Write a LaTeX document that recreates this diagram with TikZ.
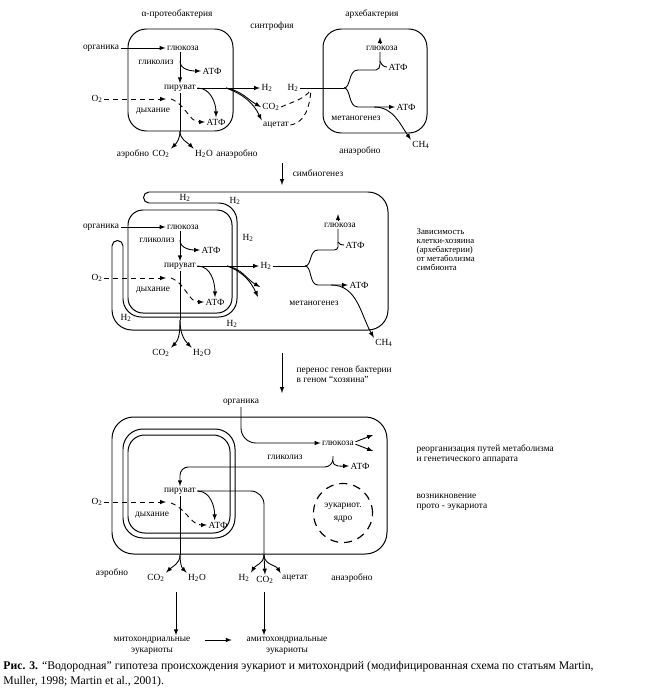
\documentclass[tikz,border=0pt]{standalone}
\usepackage{fontspec}
\setmainfont{Liberation Serif}
\newcommand\hyd{H\textsubscript{2}}
\newcommand\cdo{CO\textsubscript{2}}
\newcommand\oxy{O\textsubscript{2}}
\newcommand\meth{CH\textsubscript{4}}
\newcommand\wat{H\textsubscript{2}O}
\tikzset{
  txt/.style={font=\fontsize{8}{8.5}\selectfont, inner sep=1pt},
  arr/.style={arrows={-latex}},
  dsh/.style={dash pattern=on 1.5mm off 1.2mm},
  cell/.style={line width=0.85pt},
}

\begin{document}
\begin{tikzpicture}[x=0.3mm,y=-0.3mm,line width=0.75pt]
      \useasboundingbox (0,0) rectangle (644,699);
      % synthrophy: two cells
      \node[txt] (alpha) at (177,14) {α-протеобактерия};
      \node[txt] (syntr) at (272,26) {синтрофия};
      \node[txt] (archae) at (372,14) {архебактерия};
      \draw[cell,rounded corners=5.5mm] (128,29) rectangle (233,131);
      \draw[cell,rounded corners=5.5mm] (323,29) rectangle (427,133);
      \node[txt] (org1) at (101,48) {органика};
      \node[txt] (gluA1) at (183,48) {глюкоза};
      \node[txt] (gly1) at (156,62) {гликолиз};
      \node[txt] (atpA1) at (212,71) {АТФ};
      \node[txt] (pyr1) at (180,88) {пируват};
      \node[txt] (o2a) at (97,99) {\oxy};
      \node[txt] (resp1) at (153,111) {дыхание};
      \node[txt] (atpB1) at (216,122) {АТФ};
      \node[txt] (aer1) at (133,154) {аэробно};
      \node[txt] (co2a) at (161,154) {\cdo};
      \node[txt] (h2oa) at (204,154) {\wat};
      \node[txt] (anaer1) at (237,154) {анаэробно};
      \node[txt] (h2a) at (267,88) {\hyd};
      \node[txt] (co2b) at (271,107) {\cdo};
      \node[txt] (acet1) at (276,125) {ацетат};
      \node[txt] (h2b) at (293,88) {\hyd};
      \node[txt] (gluB1) at (382,48) {глюкоза};
      \node[txt] (atpC1) at (398,67) {АТФ};
      \node[txt] (atpD1) at (406,107) {АТФ};
      \node[txt] (meth1) at (356,118) {метаногенез};
      \node[txt] (ch4a) at (421,145) {\meth};
      \node[txt] (anaer2) at (360,151) {анаэробно};
      \coordinate (g1) at (180,61);
      \coordinate (f1) at (226,88);
      \coordinate (o2t1) at (166,99);
      \coordinate (r1) at (171,99);
      \coordinate (b1) at (180,131);
      \coordinate (j0) at (311,90);
      \coordinate (j1) at (344,88);
      \coordinate (u1) at (380,64);
      \coordinate (u1b) at (380,61);
      \coordinate (m1) at (374,107);
      \draw[arr] (org1) -- (gluA1);%org-glu
      \draw[arr] (gluA1.south -| pyr1) -- (pyr1.north);%glu-pyr
      \draw[arr] (g1) to[out=-90,in=180] (atpA1.west);%glycolysis-ATP
      \draw[arr] (pyr1.east) -- (h2a.west);%pyr-H2
      \draw[arr] (pyr1.east) to[out=0,in=90] (atpB1.north);%pyr-ATP
      \draw[arr] (f1) to[out=-10,in=150] (co2b.west);%pyr-CO2
      \draw[arr] (f1) to[out=-20,in=115] (acet1.north west);%pyr-acetate
      \draw[arr,dsh] (o2a) -- (o2t1);%O2 in
      \draw[arr,dsh] (r1) to[out=-20,in=180] (atpB1.west);%respiration-ATP
      \draw (pyr1.south) -- (b1);
      \draw[arr] (b1) to[out=-90,in=45] (co2a.north east);%aerobic
      \draw[arr] (b1) to[out=-90,in=135] (h2oa.north west);%anaerobic
      \draw[dsh] (co2b.east) to[out=25,in=-130] (j0);%CO2-archaea
      \draw[dsh] (acet1.east) to[out=10,in=-95] (j0);%acetate-archaea
      \draw (h2b.east) -- (j1);
      \draw (j1) .. controls (351,88) and (348,70) .. (358,70) -- (376,70) to[out=0,in=-90] (u1) -- (gluB1.south -| u1);
      \draw[arr] (gluB1.north -| u1) -- ++(0,-7);%to glucose
      \draw (atpC1.west) to[out=180,in=-70] (u1b);%ATP hook
      \draw[arr] (j1) .. controls (351,88) and (348,107) .. (358,107) -- (atpD1.west);%H2-ATP
      \draw[arr] (m1) to[out=0,in=125] (ch4a.north west);%methane

      % symbiogenesis
      \node[txt] (symb) at (318,173) {симбиогенез};
      \coordinate (s1) at (282,163);
      \coordinate (s2) at (282,185);
      \draw[arr] (s1) -- (s2);

      % host cell engulfing the symbiont
      \draw[cell,rounded corners=6mm] (149,192) -- (388,192) -- (388,330) -- (112,330) -- (112,246);
      \draw[cell,rounded corners=5.5mm] (149,203) -- (237,203) -- (237,317) -- (123,317) -- (123,246);
      \draw[cell] (149,192) arc[start angle=90,end angle=270,radius=1.65mm];
      \draw[cell] (123,246) arc[start angle=0,end angle=180,radius=1.65mm];
      \draw[cell,rounded corners=4.5mm] (128,210) rectangle (232,313);
      \node[txt] (org2) at (101,227) {органика};
      \node[txt] (gluA2) at (183,227) {глюкоза};
      \node[txt] (gly2) at (157,240) {гликолиз};
      \node[txt] (atpA2) at (211,250) {АТФ};
      \node[txt] (pyr2) at (180,266) {пируват};
      \node[txt] (o2b) at (97,278) {\oxy};
      \node[txt] (resp2) at (153,290) {дыхание};
      \node[txt] (atpB2) at (215,302) {АТФ};
      \node[txt] (co2c) at (161,353) {\cdo};
      \node[txt] (h2oc) at (202,353) {\wat};
      \node[txt] (h2c) at (266,266) {\hyd};
      \node[txt] (h2d) at (185,198) {\hyd};
      \node[txt] (h2e) at (235,201) {\hyd};
      \node[txt] (h2f) at (248,238) {\hyd};
      \node[txt] (h2g) at (126,318) {\hyd};
      \node[txt] (h2h) at (232,324) {\hyd};
      \node[txt] (gluB2) at (340,225) {глюкоза};
      \node[txt] (atpC2) at (355,245) {АТФ};
      \node[txt] (atpD2) at (359,285) {АТФ};
      \node[txt] (meth2) at (314,303) {метаногенез};
      \node[txt] (ch4b) at (384,343) {\meth};
      \node[txt,align=left,anchor=west,font=\fontsize{7.5}{7.7}\selectfont] (depend) at (415,250) {Зависимость\\клетки-хозяина\\(архебактерии)\\от метаболизма\\симбионта};
      \coordinate (g2) at (180,240);
      \coordinate (f2) at (227,266);
      \coordinate (e2a) at (260,287);
      \coordinate (e2b) at (258,297);
      \coordinate (o2t2) at (166,278);
      \coordinate (r2) at (171,278);
      \coordinate (b2) at (180,320);
      \coordinate (j2) at (305,266);
      \coordinate (u2) at (338,247);
      \coordinate (u2b) at (338,242);
      \coordinate (m2) at (331,285);
      \draw[arr] (org2) -- (gluA2);%org-glu
      \draw[arr] (gluA2.south -| pyr2) -- (pyr2.north);%glu-pyr
      \draw[arr] (g2) to[out=-90,in=180] (atpA2.west);%glycolysis-ATP
      \draw[arr] (pyr2.east) -- (h2c.west);%pyr-H2
      \draw[arr] (pyr2.east) to[out=0,in=90] (atpB2.north);%pyr-ATP
      \draw[arr] (f2) to[out=-10,in=150] (e2a);
      \draw[arr] (f2) to[out=-20,in=115] (e2b);
      \draw[arr,dsh] (o2b) -- (o2t2);%O2 in
      \draw[arr,dsh] (r2) to[out=-20,in=180] (atpB2.west);%respiration-ATP
      \draw (pyr2.south) -- (b2);
      \draw[arr] (b2) to[out=-90,in=45] (co2c.north east);
      \draw[arr] (b2) to[out=-90,in=135] (h2oc.north west);
      \draw (h2c.east) -- (j2);
      \draw (j2) .. controls (312,266) and (309,250) .. (318,250) -- (334,250) to[out=0,in=-90] (u2) -- (gluB2.south -| u2);
      \draw[arr] (gluB2.north -| u2) -- ++(0,-7);%to glucose
      \draw (atpC2.west) to[out=180,in=-70] (u2b);%ATP hook
      \draw[arr] (j2) .. controls (312,266) and (309,285) .. (318,285) -- (atpD2.west);%H2-ATP
      \draw[arr] (m2) to[out=0,in=120] (ch4b.north west);%methane

      % gene transfer
      \node[txt,align=left,anchor=west] (transfer) at (295,374) {перенос генов бактерии\\в геном “хозяина”};
      \coordinate (s3) at (282,353);
      \coordinate (s4) at (282,393);
      \draw[arr] (s3) -- (s4);

      % proto-eukaryote
      \draw[cell,rounded corners=6.5mm] (112,417) rectangle (387,554);
      \draw[cell,rounded corners=6mm] (123,429) rectangle (235,538);
      \draw[cell,rounded corners=5mm] (128,435) rectangle (230,533);
      \node[txt] (org3) at (241,402) {органика};
      \node[txt] (glu3) at (338,443) {глюкоза};
      \node[txt] (gly3) at (285,457) {гликолиз};
      \node[txt] (atpA3) at (360,466) {АТФ};
      \node[txt] (pyr3) at (180,491) {пируват};
      \node[txt] (o2c) at (97,502) {\oxy};
      \node[txt] (resp3) at (152,515) {дыхание};
      \node[txt] (atpB3) at (218,525) {АТФ};
      \node[txt,draw,circle,minimum size=17.7mm,line width=1pt,dash pattern=on 2.4mm off 1.8mm,align=center,font=\fontsize{8}{11}\selectfont] (nucl) at (343,513) {эукариот.\\ядро};
      \node[txt,align=left,anchor=west] (reorg) at (415,454.5) {реорганизация путей метаболизма\\и генетического аппарата};
      \node[txt,align=left,anchor=west] (proto) at (415,502) {возникновение\\прото - эукариота};
      \node[txt] (aer3) at (112,573) {аэробно};
      \node[txt] (co2d) at (156,578) {\cdo};
      \node[txt] (h2oe) at (197,578) {\wat};
      \node[txt] (h2i) at (244,578) {\hyd};
      \node[txt] (co2e) at (265,580) {\cdo};
      \node[txt] (acet2) at (295,578) {ацетат};
      \node[txt] (anaer3) at (352,578) {анаэробно};
      \coordinate (fk3) at (333,456);
      \coordinate (k3) at (333,467);
      \coordinate (k3b) at (333,461);
      \coordinate (e3a) at (373,435);
      \coordinate (e3b) at (373,451);
      \coordinate (o2t3) at (166,502);
      \coordinate (r3) at (171,503);
      \coordinate (b3) at (180,555);
      \coordinate (c3) at (264,555);
      \draw[arr,rounded corners=4.5mm] (org3.south) |- (glu3.west);%org-glu
      \draw[arr] ([yshift=1pt]glu3.east) -- (e3a);
      \draw[arr] ([yshift=-1pt]glu3.east) -- (e3b);
      \draw[arr,rounded corners=2.5mm] (fk3) -- (k3) -| (pyr3.north);%glycolysis-pyr
      \draw[arr] (k3b) to[out=-90,in=180] (atpA3.west);%glycolysis-ATP
      \draw[arr] (pyr3.east) to[out=0,in=90] ([xshift=-1mm]atpB3.north);%pyr-ATP
      \draw[rounded corners=4mm] (pyr3.east) -| (c3);
      \draw[arr] (c3) to[out=-90,in=60] (h2i.north east);
      \draw[arr] (c3) -- (co2e.north);
      \draw[arr] (c3) to[out=-90,in=120] (acet2.north west);
      \draw[arr,dsh] (o2c) -- (o2t3);%O2 in
      \draw[arr,dsh] (r3) to[out=-20,in=180] (atpB3.west);%respiration-ATP
      \draw (pyr3.south) -- (b3);
      \draw[arr] (b3) to[out=-90,in=45] (co2d.north east);
      \draw[arr] (b3) to[out=-90,in=135] (h2oe.north west);

      % two lines of eukaryotes
      \node[txt] (mito) at (152,640) {митохондриальные};
      \node[txt] (mitoE) at (152,651) {эукариоты};
      \node[txt] (amito) at (287,640) {амитохондриальные};
      \node[txt] (amitoE) at (287,651) {эукариоты};
      \coordinate (d1) at (176,592);
      \coordinate (d2) at (264,592);
      \draw[arr] (d1) -- (d1 |- mito.north);
      \draw[arr] (d2) -- (d2 |- amito.north);
      \draw[arr,shorten <=4mm,shorten >=4mm] (mito) -- (amito);

      % caption
      \node[anchor=north west,inner sep=0pt,align=left,font=\fontsize{10}{13}\selectfont] (capt) at (3,661) {\textbf{Рис. 3.} “Водородная” гипотеза происхождения эукариот и митохондрий (модифицированная схема по статьям Martin,\\Muller, 1998; Martin et al., 2001).};
    \end{tikzpicture}
\end{document}
